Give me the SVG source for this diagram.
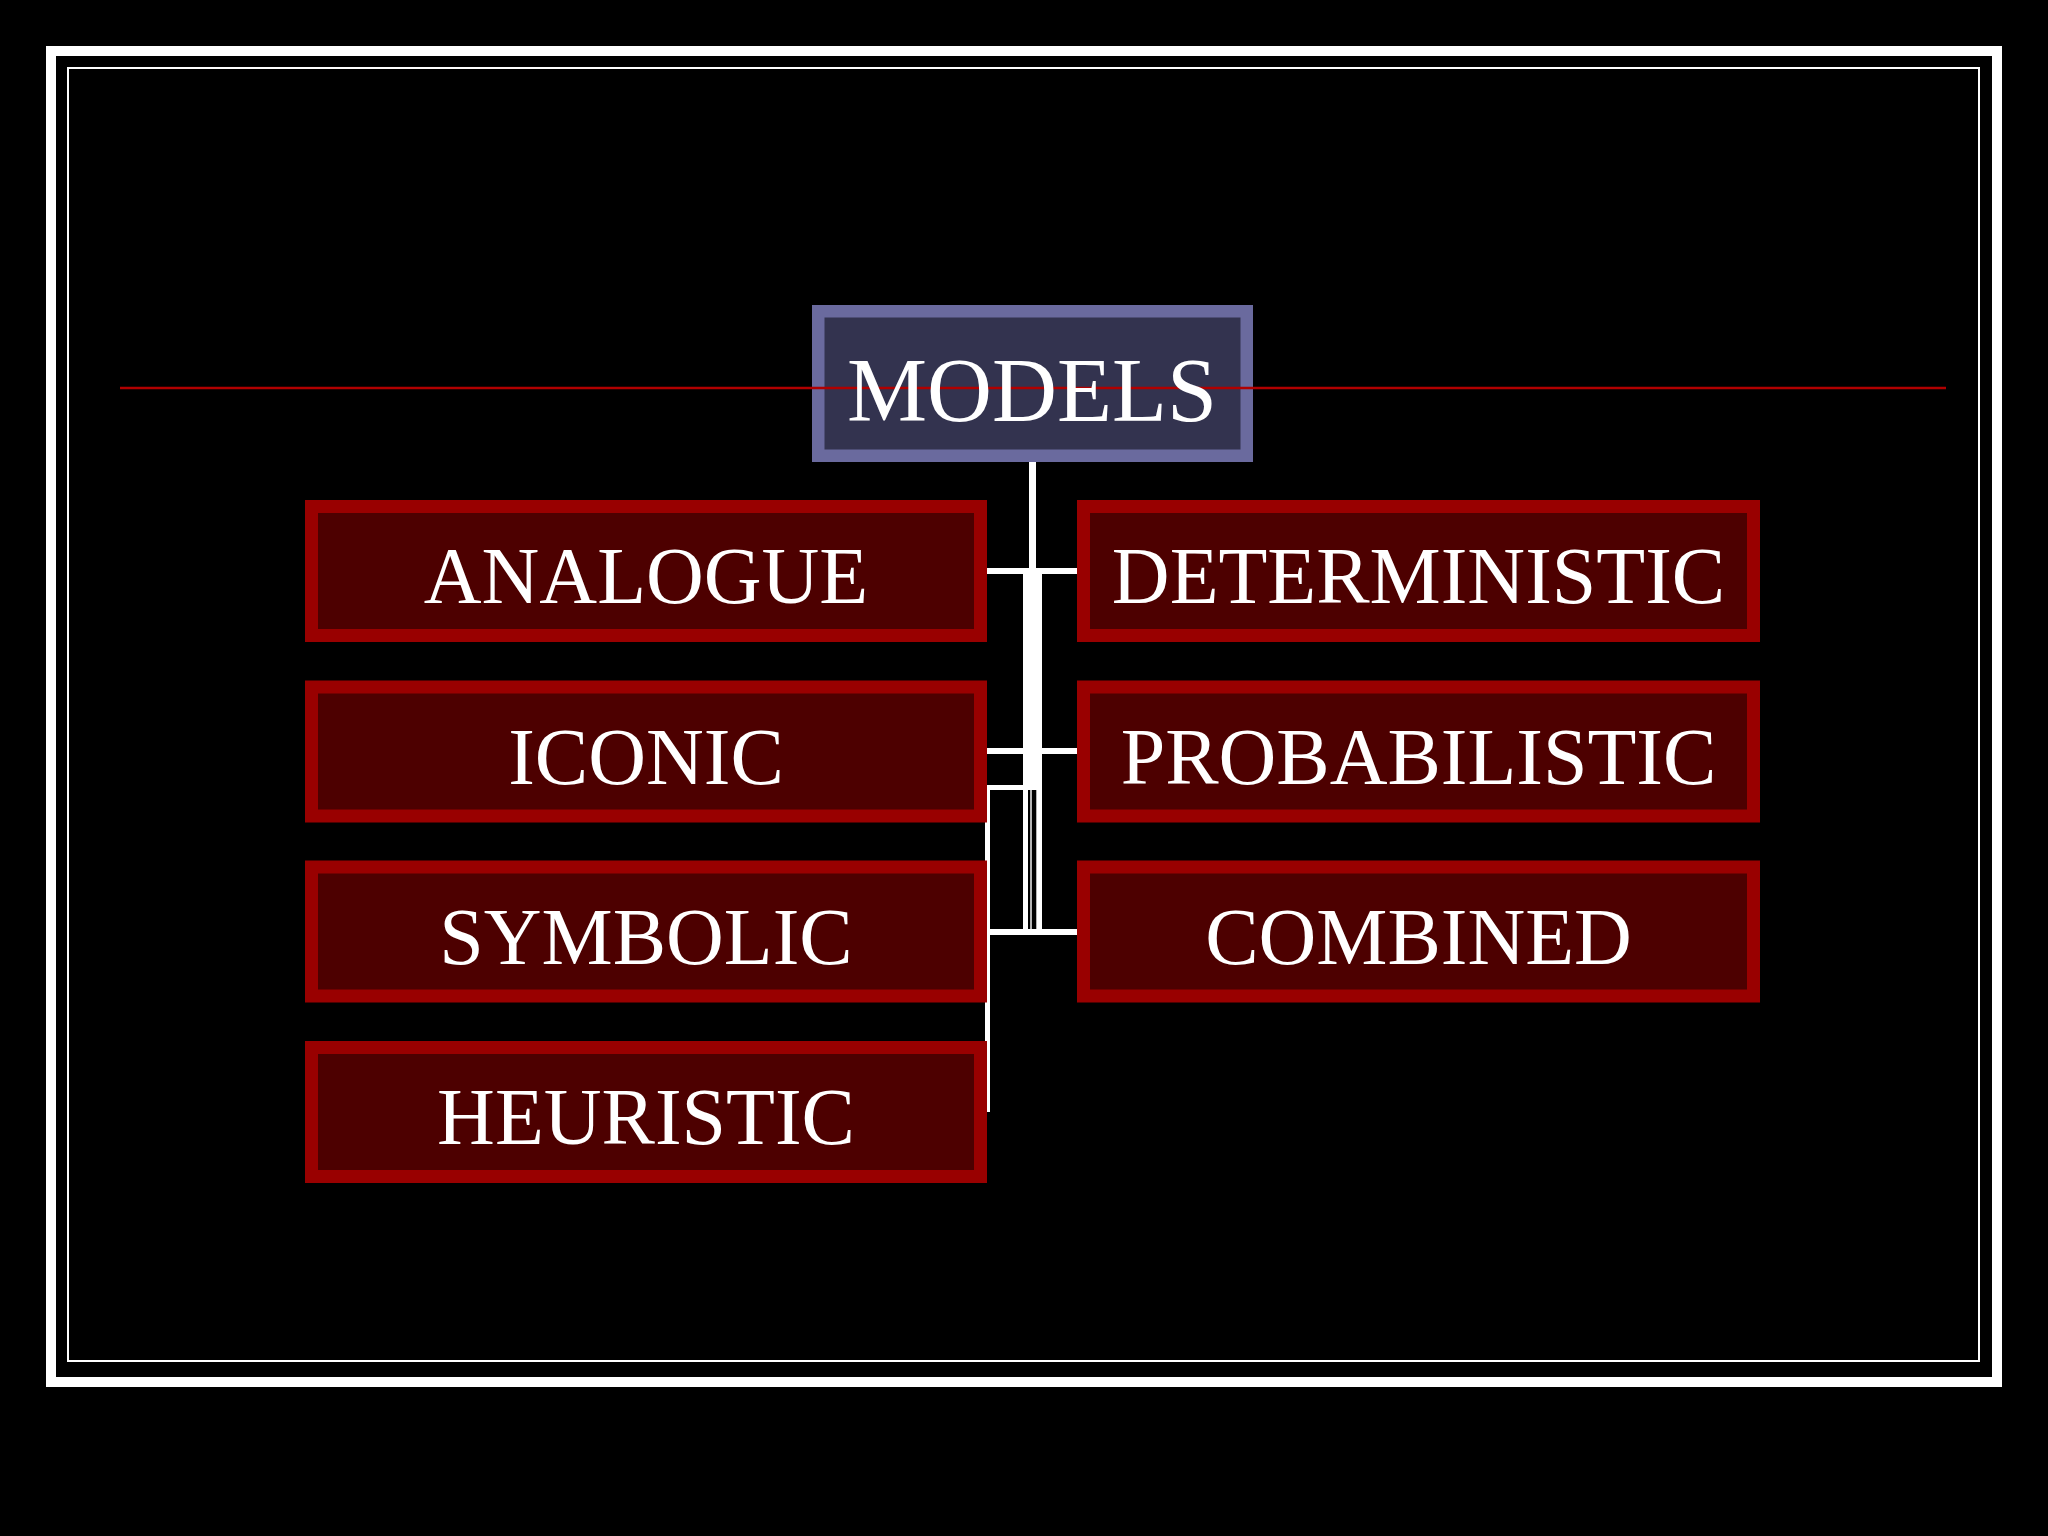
<svg xmlns="http://www.w3.org/2000/svg" width="2048" height="1536" viewBox="0 0 2048 1536">
  <style>
    .frame { fill: none; stroke: #ffffff; }
    .box { fill: #4d0000; stroke: #990000; stroke-width: 13; }
    .root { fill: #33334f; stroke: #6a6a9e; stroke-width: 12.5; }
    .lbl { font-family: "Liberation Serif", "Times New Roman", serif; fill: #ffffff; text-anchor: middle; font-size: 80px; }
    .rootlbl { font-family: "Liberation Serif", "Times New Roman", serif; fill: #ffffff; text-anchor: middle; font-size: 90px; }
    .conn { fill: #ffffff; }
  </style>
  <rect x="0" y="0" width="2048" height="1536" fill="#000000"/>
  <g id="frame">
    <rect class="frame" x="51" y="51" width="1946" height="1331" stroke-width="10"/>
    <rect class="frame" x="68" y="68" width="1911" height="1293" stroke-width="2"/>
  </g>
  <g id="connectors">
    <rect class="conn" x="1029" y="462" width="7" height="112"/>
    <rect class="conn" x="987" y="568" width="90" height="6"/>
    <rect class="conn" x="1023" y="574" width="19" height="356"/>
    <rect class="conn" x="987" y="748" width="90" height="6"/>
    <rect class="conn" x="985" y="785" width="38" height="5"/>
    <rect class="conn" x="985" y="785" width="5" height="327"/>
    <rect class="conn" x="987" y="929" width="90" height="6"/>
    <rect x="1028" y="790" width="2.3" height="139" fill="#000000"/>
    <rect x="1031.7" y="790" width="4.6" height="139" fill="#000000"/>
  </g>
  <g id="models">
    <rect class="root" x="818.25" y="311.25" width="428.5" height="144.5"/>
  </g>
  <line id="rule" x1="120" y1="388" x2="1946" y2="388" stroke="#b00000" stroke-width="2.5"/>
  <text class="rootlbl" x="1032" y="421">MODELS</text>
  <g id="analogue">
    <rect class="box" x="311.5" y="506.5" width="669" height="129"/>
    <text class="lbl" x="646" y="603">ANALOGUE</text>
  </g>
  <g id="iconic">
    <rect class="box" x="311.5" y="687" width="669" height="129"/>
    <text class="lbl" x="646" y="783.5">ICONIC</text>
  </g>
  <g id="symbolic">
    <rect class="box" x="311.5" y="867" width="669" height="129"/>
    <text class="lbl" x="646" y="963.5">SYMBOLIC</text>
  </g>
  <g id="heuristic">
    <rect class="box" x="311.5" y="1047.5" width="669" height="129"/>
    <text class="lbl" x="646" y="1144">HEURISTIC</text>
  </g>
  <g id="deterministic">
    <rect class="box" x="1083.5" y="506.5" width="670" height="129"/>
    <text class="lbl" x="1418.5" y="603">DETERMINISTIC</text>
  </g>
  <g id="probabilistic">
    <rect class="box" x="1083.5" y="687" width="670" height="129"/>
    <text class="lbl" x="1418.5" y="783.5">PROBABILISTIC</text>
  </g>
  <g id="combined">
    <rect class="box" x="1083.5" y="867" width="670" height="129"/>
    <text class="lbl" x="1418.5" y="963.5">COMBINED</text>
  </g>
</svg>
